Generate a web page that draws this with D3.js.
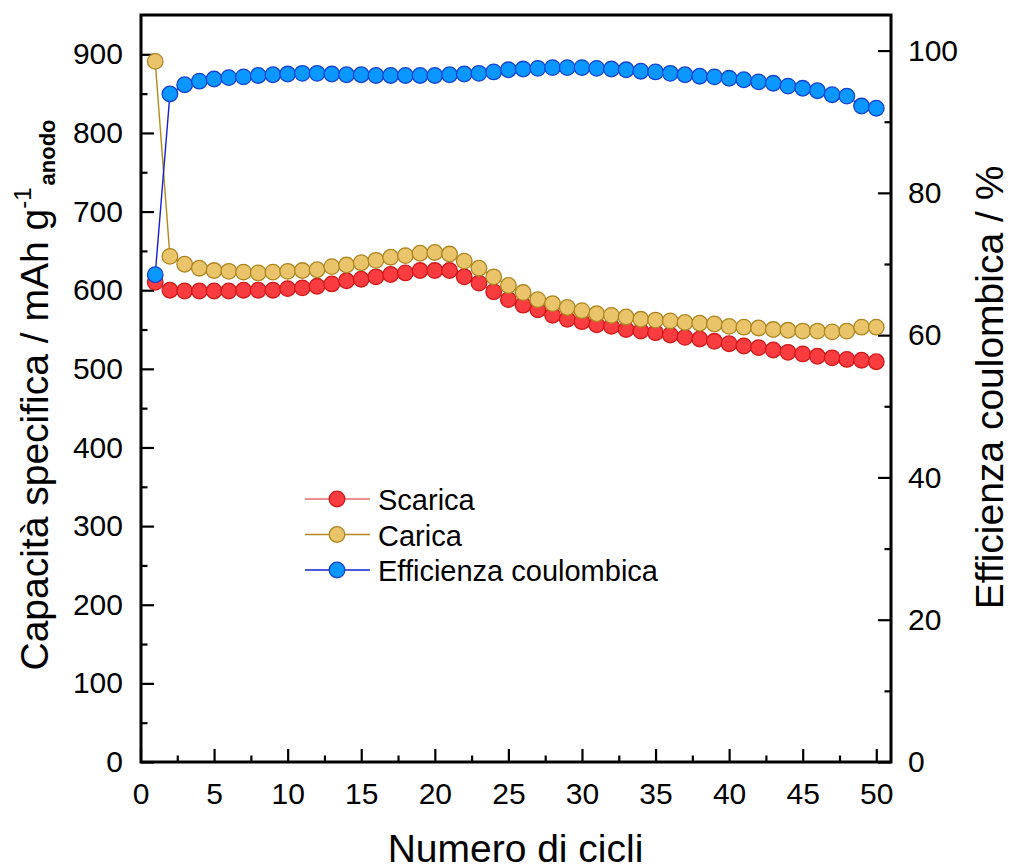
<!DOCTYPE html>
<html>
<head>
<meta charset="utf-8">
<script src="https://cdn.jsdelivr.net/npm/d3@7"></script>
<style>
  html, body { margin: 0; padding: 0; background: #fff; }
  svg { display: block; font-family: "Liberation Sans", Arial, sans-serif; }
</style>
</head>
<body>
<svg id="chart" width="1011" height="868"></svg>
<script>
// ---- data ----
const cycles = d3.range(1, 51);
const scarica = [610, 600, 599, 599, 599, 599, 600, 600, 600, 602, 603, 605, 608, 612, 614, 617, 620, 622, 625, 625,
                 625, 617, 609, 598, 588, 581, 575, 568, 563, 560, 556, 554, 550, 548, 546, 543, 540, 538, 535, 532,
                 529, 527, 524, 521, 519, 516, 514, 512, 511, 509];
const carica = [891, 643, 633, 628, 625, 624, 623, 622, 623, 624, 625, 626, 630, 632, 635, 638, 642, 644, 647, 648,
                646, 637, 628, 617, 606, 597, 588, 583, 578, 574, 570, 568, 566, 563, 562, 561, 559, 558, 557, 554,
                553, 552, 550, 549, 548, 548, 547, 548, 553, 553];
const efficienza = [68.5, 93.9, 95.2, 95.7, 96.0, 96.2, 96.3, 96.5, 96.6, 96.7, 96.8, 96.8, 96.7, 96.6, 96.6, 96.5, 96.5, 96.5, 96.5, 96.5,
                    96.6, 96.7, 96.8, 97.0, 97.3, 97.4, 97.5, 97.6, 97.6, 97.6, 97.5, 97.4, 97.3, 97.1, 97.0, 96.8, 96.6, 96.4, 96.3, 96.1,
                    95.9, 95.6, 95.4, 95.0, 94.7, 94.35, 93.8, 93.6, 92.2, 91.9];
const xMajorTicks = [0, 5, 10, 15, 20, 25, 30, 35, 40, 45, 50];
const yLeftMajorTicks = [0, 100, 200, 300, 400, 500, 600, 700, 800, 900];
const yRightMajorTicks = [0, 20, 40, 60, 80, 100];
const seriesNames = ["Scarica", "Carica", "Efficienza coulombica"];
const xTitle = "Numero di cicli";
const yRightTitle = "Efficienza coulombica / %";

// ---- layout ----
const L = 141, R = 891, T = 15, B = 762;
const svg = d3.select("#chart");

const x = d3.scaleLinear().domain([0, 51]).range([140.5, R]);
const yL = d3.scaleLinear().domain([0, 950]).range([B, T]);
const yR = d3.scaleLinear().domain([0, 105]).range([B, T]);

const tickFont = 30;
const MAJ = 13, MIN = 6.5;

// minor tick values
const xMinor = d3.range(2.5, 51, 5);
const yLMinor = d3.range(50, 950, 100);
const yRMinor = d3.range(10, 105, 20);

function styleAxis(g) {
  g.select(".domain").remove();
  g.selectAll(".tick line").attr("stroke", "#000").attr("stroke-width", 2.2);
  g.selectAll(".tick text").attr("font-size", tickFont).attr("fill", "#000")
    .attr("font-family", '"Liberation Sans", Arial, sans-serif');
}

// bottom axis
svg.append("g").attr("transform", `translate(0,${B})`)
  .call(d3.axisBottom(x).tickValues(xMajorTicks).tickSize(-MAJ).tickPadding(21).tickFormat(d3.format("d")))
  .call(styleAxis);
svg.append("g").attr("transform", `translate(0,${B})`)
  .call(d3.axisBottom(x).tickValues(xMinor).tickSize(-MIN).tickFormat(""))
  .call(styleAxis);

// left axis
svg.append("g").attr("transform", `translate(${L},0)`)
  .call(d3.axisLeft(yL).tickValues(yLeftMajorTicks).tickSize(-MAJ).tickPadding(18).tickFormat(d3.format("d")))
  .call(styleAxis);
svg.append("g").attr("transform", `translate(${L},0)`)
  .call(d3.axisLeft(yL).tickValues(yLMinor).tickSize(-MIN).tickFormat(""))
  .call(styleAxis);

// right axis
svg.append("g").attr("transform", `translate(${R},0)`)
  .call(d3.axisRight(yR).tickValues(yRightMajorTicks).tickSize(-MAJ).tickPadding(17).tickFormat(d3.format("d")))
  .call(styleAxis);
svg.append("g").attr("transform", `translate(${R},0)`)
  .call(d3.axisRight(yR).tickValues(yRMinor).tickSize(-MIN).tickFormat(""))
  .call(styleAxis);

// frame
svg.append("rect").attr("x", L).attr("y", T).attr("width", R - L).attr("height", B - T)
  .attr("fill", "none").attr("stroke", "#000").attr("stroke-width", 3);

// ---- series ----
const styles = [
  { data: scarica, y: yL, line: "#e86a6a", fill: "#f93c40", stroke: "#d01818" },
  { data: carica, y: yL, line: "#b5891c", fill: "#e9c46b", stroke: "#ad8520" },
  { data: efficienza, y: yR, line: "#1420d0", fill: "#0a98ff", stroke: "#1840d0" }
];
const r = 7.8;

styles.forEach(s => {
  const pts = cycles.map((c, i) => [c, s.data[i]]);
  svg.append("path")
    .datum(pts)
    .attr("fill", "none")
    .attr("stroke", s.line)
    .attr("stroke-width", 1.4)
    .attr("d", d3.line().x(d => x(d[0])).y(d => s.y(d[1])));
  svg.append("g").selectAll("circle").data(pts).join("circle")
    .attr("cx", d => x(d[0])).attr("cy", d => s.y(d[1])).attr("r", r)
    .attr("fill", s.fill).attr("stroke", s.stroke).attr("stroke-width", 1.3);
});

// ---- legend ----
const legend = svg.append("g");
styles.forEach((s, i) => {
  const yy = 499 + i * 35.5;
  legend.append("line").attr("x1", 305).attr("x2", 370).attr("y1", yy).attr("y2", yy)
    .attr("stroke", s.line).attr("stroke-width", 1.4);
  legend.append("circle").attr("cx", 337).attr("cy", yy).attr("r", r)
    .attr("fill", s.fill).attr("stroke", s.stroke).attr("stroke-width", 1.3);
  legend.append("text").attr("x", 378).attr("y", yy + 11).attr("font-size", 29)
    .attr("fill", "#000").text(seriesNames[i]);
});

// ---- titles ----
svg.append("text").attr("x", (388 + 643) / 2).attr("y", 862).attr("text-anchor", "middle")
  .attr("font-size", 39).attr("fill", "#000").text(xTitle);

const lt = svg.append("text")
  .attr("transform", "translate(48,395) rotate(-90)")
  .attr("text-anchor", "middle").attr("fill", "#000").attr("font-size", 39);
lt.append("tspan").text("Capacità specifica / mAh g");
lt.append("tspan").attr("font-size", 24).attr("dy", -17).text("-1");
lt.append("tspan").attr("font-size", 22).attr("font-weight", "bold").attr("dy", 24).attr("dx", 2).text("anodo");

svg.append("text")
  .attr("transform", `translate(1003,${(610 + 165) / 2}) rotate(-90)`)
  .attr("text-anchor", "middle").attr("fill", "#000").attr("font-size", 39)
  .text(yRightTitle);
</script>
</body>
</html>
